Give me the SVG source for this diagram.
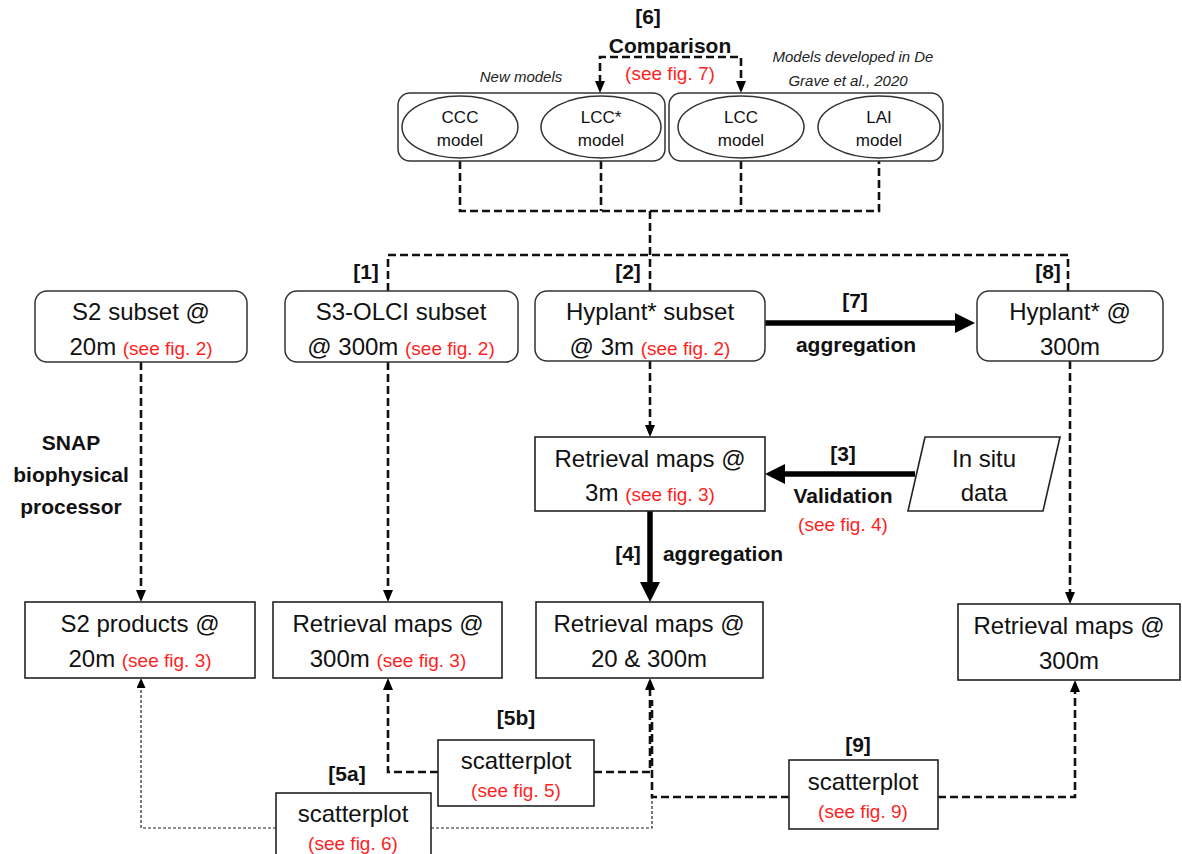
<svg xmlns="http://www.w3.org/2000/svg" width="1182" height="854" viewBox="0 0 1182 854">
<defs>
<style>
.t{font-family:"Liberation Sans",Arial,sans-serif;font-size:24px;fill:#111;text-anchor:middle}
.r{fill:#ff1f1f;font-size:19px}
.b{font-family:"Liberation Sans",Arial,sans-serif;font-weight:bold;font-size:21px;fill:#111;text-anchor:middle}
.i{font-family:"Liberation Sans",Arial,sans-serif;font-style:italic;font-size:15px;fill:#222;text-anchor:middle}
.m{font-family:"Liberation Sans",Arial,sans-serif;font-size:17px;fill:#111;text-anchor:middle}
.box{fill:#fff;stroke:#222;stroke-width:1.6}
.rbox{fill:#fff;stroke:#333;stroke-width:1.5}
.dash{fill:none;stroke:#111;stroke-width:2.6;stroke-dasharray:8 4}
.dot{fill:none;stroke:#222;stroke-width:1.2;stroke-dasharray:3 2}
.thick{fill:none;stroke:#000;stroke-width:5.5}
</style>
<marker id="sa" viewBox="0 0 12 10" markerWidth="12" markerHeight="10" refX="2" refY="5" orient="auto-start-reverse" markerUnits="userSpaceOnUse"><path d="M0,0 L12,5 L0,10 z" fill="#000"/></marker>
<marker id="ta" viewBox="0 0 10 9" markerWidth="10" markerHeight="9" refX="2" refY="4.5" orient="auto" markerUnits="userSpaceOnUse"><path d="M0,0 L10,4.5 L0,9 z" fill="#000"/></marker>
<marker id="ba" viewBox="0 0 20 20" markerWidth="20" markerHeight="20" refX="4" refY="10" orient="auto" markerUnits="userSpaceOnUse"><path d="M0,0 L20,10 L0,20 z" fill="#000"/></marker>
</defs>
<rect width="1182" height="854" fill="#fff"/>

<g id="connectors">
<path class="dash" d="M600,83 V57 H741 V83" marker-start="url(#sa)" marker-end="url(#sa)"/>
<path class="dash" d="M460,161 V211 H879 V161"/>
<path class="dash" d="M601,161 V211"/>
<path class="dash" d="M741,161 V211"/>
<path class="dash" d="M650,211 V291"/>
<path class="dash" d="M388,291 V255 H1068 V291"/>
<path class="dash" d="M141,362 V592" marker-end="url(#sa)"/>
<path class="dash" d="M388,362 V592" marker-end="url(#sa)"/>
<path class="dash" d="M650,361 V427" marker-end="url(#sa)"/>
<path class="dash" d="M1070,361 V594" marker-end="url(#sa)"/>
<path class="thick" d="M765,323 H959" marker-end="url(#ba)"/>
<path class="thick" d="M915,474 H781" marker-end="url(#ba)"/>
<path class="thick" d="M650,511 V586" marker-end="url(#ba)"/>
<path class="dash" d="M438,772 H388 V688" marker-end="url(#sa)"/>
<path class="dash" d="M594,772 H650 V688" marker-end="url(#sa)"/>
<path class="dash" d="M789,797 H652 V700"/>
<path class="dash" d="M938,797 H1075 V690" marker-end="url(#sa)"/>
<path class="dot" d="M276,828 H141 V686" marker-end="url(#ta)"/>
<path class="dot" d="M431,828 H652 V797"/>
</g>

<g id="labels">
<text class="b" x="648" y="24">[6]</text>
<text class="b" x="670" y="53">Comparison</text>
<text class="t r" x="670" y="80">(see fig. 7)</text>
<text class="i" x="521" y="82">New models</text>
<text class="i" x="853" y="62">Models developed in De</text>
<text class="i" x="848" y="86">Grave et al., 2020</text>
<text class="b" x="366" y="279">[1]</text>
<text class="b" x="628" y="279">[2]</text>
<text class="b" x="1048" y="279">[8]</text>
<text class="b" x="855" y="308">[7]</text>
<text class="b" x="856" y="352">aggregation</text>
<text class="b" x="843" y="461">[3]</text>
<text class="b" x="843" y="503">Validation</text>
<text class="t r" x="843" y="531">(see fig. 4)</text>
<text class="b" x="628" y="561">[4]</text>
<text class="b" x="723" y="561">aggregation</text>
<text class="b" x="71" y="450">SNAP</text>
<text class="b" x="71" y="482">biophysical</text>
<text class="b" x="71" y="514">processor</text>
<text class="b" x="516" y="725">[5b]</text>
<text class="b" x="347" y="781">[5a]</text>
<text class="b" x="858" y="752">[9]</text>
</g>

<g id="group-new">
<rect class="rbox" x="398" y="93" width="267" height="68" rx="12"/>
</g>
<g id="group-degrave">
<rect class="rbox" x="669" y="93" width="274" height="68" rx="12"/>
</g>
<g id="ccc">
<ellipse class="rbox" cx="460" cy="127" rx="58" ry="31"/>
<text class="m" x="460" y="123">CCC</text><text class="m" x="460" y="146">model</text>
</g>
<g id="lccstar">
<ellipse class="rbox" cx="601" cy="127" rx="60" ry="31"/>
<text class="m" x="601" y="123">LCC*</text><text class="m" x="601" y="146">model</text>
</g>
<g id="lcc">
<ellipse class="rbox" cx="741" cy="127" rx="63" ry="31"/>
<text class="m" x="741" y="123">LCC</text><text class="m" x="741" y="146">model</text>
</g>
<g id="lai">
<ellipse class="rbox" cx="879" cy="127" rx="61" ry="31"/>
<text class="m" x="879" y="123">LAI</text><text class="m" x="879" y="146">model</text>
</g>

<g id="s2subset">
<rect class="rbox" x="35" y="291" width="212" height="71" rx="12"/>
<text class="t" x="141" y="320">S2 subset @</text>
<text class="t" x="141" y="355"><tspan>20m </tspan><tspan class="r">(see fig. 2)</tspan></text>
</g>
<g id="s3subset">
<rect class="rbox" x="285" y="291" width="233" height="71" rx="12"/>
<text class="t" x="401" y="320">S3-OLCI subset</text>
<text class="t" x="401" y="355"><tspan>@ 300m </tspan><tspan class="r">(see fig. 2)</tspan></text>
</g>
<g id="hyplantsubset">
<rect class="rbox" x="535" y="291" width="230" height="70" rx="12"/>
<text class="t" x="650" y="320">Hyplant* subset</text>
<text class="t" x="650" y="355"><tspan>@ 3m </tspan><tspan class="r">(see fig. 2)</tspan></text>
</g>
<g id="hyplant300">
<rect class="rbox" x="977" y="291" width="186" height="70" rx="12"/>
<text class="t" x="1070" y="320">Hyplant* @</text>
<text class="t" x="1070" y="355">300m</text>
</g>

<g id="ret3m">
<rect class="box" x="535" y="437" width="230" height="74"/>
<text class="t" x="650" y="467">Retrieval maps @</text>
<text class="t" x="650" y="501"><tspan>3m </tspan><tspan class="r">(see fig. 3)</tspan></text>
</g>
<g id="insitu">
<polygon class="box" points="925,437 1060,437 1043,511 908,511"/>
<text class="t" x="984" y="467">In situ</text>
<text class="t" x="984" y="501">data</text>
</g>

<g id="s2products">
<rect class="box" x="25" y="602" width="230" height="76"/>
<text class="t" x="140" y="632">S2 products @</text>
<text class="t" x="140" y="667"><tspan>20m </tspan><tspan class="r">(see fig. 3)</tspan></text>
</g>
<g id="ret300">
<rect class="box" x="273" y="602" width="229" height="76"/>
<text class="t" x="388" y="632">Retrieval maps @</text>
<text class="t" x="388" y="667"><tspan>300m </tspan><tspan class="r">(see fig. 3)</tspan></text>
</g>
<g id="ret20300">
<rect class="box" x="536" y="602" width="227" height="76"/>
<text class="t" x="649" y="632">Retrieval maps @</text>
<text class="t" x="649" y="667">20 &amp; 300m</text>
</g>
<g id="ret300h">
<rect class="box" x="958" y="604" width="222" height="76"/>
<text class="t" x="1069" y="634">Retrieval maps @</text>
<text class="t" x="1069" y="669">300m</text>
</g>

<g id="scatter5b">
<rect class="box" x="438" y="740" width="156" height="66"/>
<text class="t" x="516" y="769">scatterplot</text>
<text class="t r" x="516" y="797">(see fig. 5)</text>
</g>
<g id="scatter5a">
<rect class="box" x="276" y="793" width="155" height="70"/>
<text class="t" x="353" y="822">scatterplot</text>
<text class="t r" x="353" y="850">(see fig. 6)</text>
</g>
<g id="scatter9">
<rect class="box" x="789" y="760" width="149" height="69"/>
<text class="t" x="863" y="790">scatterplot</text>
<text class="t r" x="863" y="818">(see fig. 9)</text>
</g>
</svg>
